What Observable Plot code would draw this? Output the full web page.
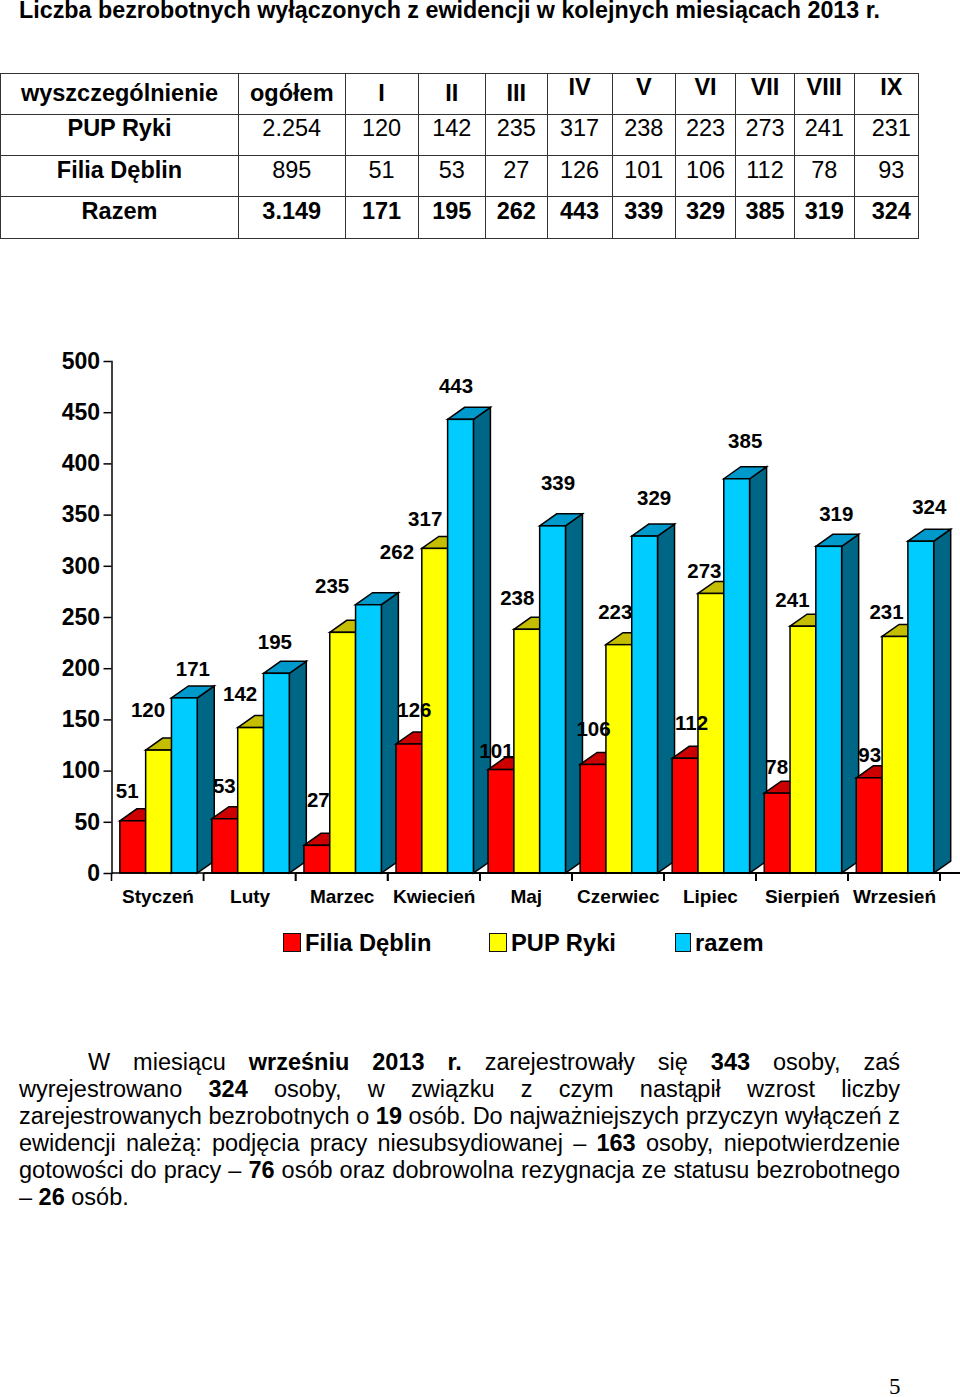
<!DOCTYPE html>
<html lang="pl">
<head>
<meta charset="utf-8">
<script src="https://cdn.jsdelivr.net/npm/d3@7"></script>
<script src="https://cdn.jsdelivr.net/npm/@observablehq/plot@0.6"></script>
<style>
html,body{margin:0;padding:0;background:#fff;color:#000}
body{width:960px;height:1397px;position:relative;overflow:hidden;font-family:"Liberation Sans",Arial,sans-serif}
#title{position:absolute;left:19px;top:0;font-weight:bold;font-size:23.3px;line-height:20px;white-space:nowrap;padding-bottom:4px}
#tbl{position:absolute;left:0;top:72.5px;border-collapse:collapse;table-layout:fixed;font-size:23.5px}
#tbl td{border:1.6px solid #333;text-align:center;vertical-align:top;padding:0;height:40.3px;line-height:27px;white-space:nowrap;overflow:visible}
#tbl td span{position:relative;display:inline-block}
#tbl td.b{font-weight:bold}
#chart{position:absolute;left:0;top:340px}
#chart svg{overflow:visible}
.lg{position:absolute;top:928px;font-weight:bold;font-size:23.7px;line-height:30px;white-space:nowrap}
.sw{position:absolute;top:933px;height:17px;border:1.6px solid #111;box-sizing:content-box}
#para{position:absolute;left:19px;top:1049px;width:881px;font-size:23.5px;line-height:27px}
#para div{text-align:justify;text-align-last:justify;white-space:normal}
#para div.first{padding-left:69px}
#para div.last{text-align-last:left}
#page{position:absolute;left:889px;top:1375px;font-family:"Liberation Serif",serif;font-size:23px;line-height:24px}
</style>
</head>
<body>
<div id="title">Liczba bezrobotnych wyłączonych z ewidencji w kolejnych miesiącach 2013 r.</div>
<table id="tbl"></table>
<div id="chart"></div>
<div id="legend"></div>
<div id="para">
<div class="first">W miesiącu <b>wrześniu 2013 r.</b> zarejestrowały się <b>343</b> osoby, zaś</div>
<div>wyrejestrowano <b>324</b> osoby, w związku z czym nastąpił wzrost liczby</div>
<div>zarejestrowanych bezrobotnych o <b>19</b> osób. Do najważniejszych przyczyn wyłączeń z</div>
<div>ewidencji należą: podjęcia pracy niesubsydiowanej – <b>163</b> osoby, niepotwierdzenie</div>
<div>gotowości do pracy – <b>76</b> osób oraz dobrowolna rezygnacja ze statusu bezrobotnego</div>
<div class="last">– <b>26</b> osób.</div>
</div>
<div id="page">5</div>
<script>
// ---- data ----
const months = ["Styczeń","Luty","Marzec","Kwiecień","Maj","Czerwiec","Lipiec","Sierpień","Wrzesień"];
const romans = ["I","II","III","IV","V","VI","VII","VIII","IX"];
const series = ["Filia Dęblin","PUP Ryki","razem"];
const filiaDeblin = [51,53,27,126,101,106,112,78,93];
const pupRyki = [120,142,235,317,238,223,273,241,231];
const razem = [171,195,262,443,339,329,385,319,324];
const totals = {pup:"2.254", filia:"895", razem:"3.149"};
const yTicks = [0,50,100,150,200,250,300,350,400,450,500];

// ---- styling ----
const frontColors = ["#ff0000","#ffff00","#00ccff"];
const topColors = ["#cc0000","#c4bd00","#0099cc"];
const sideColors = ["#990000","#999900","#006685"];
const depth = {x:17, y:12};
// hand-placed offset of each data label from the top-centre of its bar
const labelShift = [
  {dx:[-6,-1,1,5,-5,0,6,-1,0],     dy:[-30,-33,-45,-34,-19,-36,-35,-26,-23]},
  {dx:[-11,-11,-11,-10,-10,-4,-7,-11,-9], dy:[-40,-34,-46,-29,-31,-33,-23,-26,-25]},
  {dx:[8,-2,28,-5,5,9,8,7,8],   dy:[-29,-31,-53,-33,-43,-38,-38,-32,-34]}
];

// ---- table ----
const colWidths = [238,106.5,73,67.5,61.5,65,63.5,60,59,59.5,64.5];
const tbl = document.getElementById("tbl");
tbl.style.width = d3.sum(colWidths)+"px";
tbl.innerHTML = "<colgroup>"+colWidths.map(w=>`<col style="width:${w}px">`).join("")+"</colgroup>";
function addRow(cells, bold, pad){
  const tr = tbl.insertRow();
  cells.forEach((c,i)=>{
    const td = tr.insertCell();
    if (bold(i)) td.className="b";
    td.style.paddingTop = 0;
    const s = document.createElement("span");
    s.textContent = c;
    s.style.top = (typeof pad==="function"?pad(i):pad)+"px";
    if (i===10) s.style.left = "5px";
    td.appendChild(s);
  });
}
addRow(["wyszczególnienie","ogółem",...romans], ()=>true, i=> i>=5 ? 0.5 : 6.5);
addRow(["PUP Ryki",totals.pup,...pupRyki], i=>i===0, 0.5);
addRow(["Filia Dęblin",totals.filia,...filiaDeblin], i=>i===0, 0.5);
addRow(["Razem",totals.razem,...razem], ()=>true, 0.5);

// ---- chart ----
const rows = [];
[filiaDeblin,pupRyki,razem].forEach((vals,s)=>vals.forEach((v,m)=>rows.push({
  month:months[m], series:series[s], value:v, dx:labelShift[s].dx[m], dy:labelShift[s].dy[m]
})));

function with3D(index, scales, values, dims, context, next){
  const g = next(index, scales, values, dims, context);
  const ns = "http://www.w3.org/2000/svg";
  g.querySelectorAll("rect").forEach(r=>{
    const x=+r.getAttribute("x"), y=+r.getAttribute("y"), w=+r.getAttribute("width"), h=+r.getAttribute("height");
    const k=frontColors.indexOf(r.getAttribute("fill"));
    const face=(pts,fill)=>{
      const p=document.createElementNS(ns,"polygon");
      p.setAttribute("points",pts.map(a=>a.join(",")).join(" "));
      p.setAttribute("fill",fill);
      g.insertBefore(p,r);
    };
    face([[x+w,y],[x+w+depth.x,y-depth.y],[x+w+depth.x,y+h-depth.y],[x+w,y+h]],sideColors[k]);
    face([[x,y],[x+depth.x,y-depth.y],[x+w+depth.x,y-depth.y],[x+w,y]],topColors[k]);
  });
  return g;
}

function xAxisLine(index, {fx}, values, dims){
  const g=d3.create("svg:g").attr("stroke","#000").attr("stroke-width",1.5).attr("fill","none");
  const y0=dims.height-dims.marginBottom, bw=fx.bandwidth;
  const left=fx(months[0]), right=fx(months[months.length-1])+bw;
  g.append("path").attr("d",`M${left},${y0}H${right}l${depth.x+1},${-depth.y}`);
  months.forEach(m=>g.append("path").attr("d",`M${fx(m)},${y0}v8`));
  g.append("path").attr("d",`M${right},${y0}v8`);
  return g.node();
}

const plot = Plot.plot({
  width:960, height:590,
  marginLeft:111.5, marginRight:20, marginTop:21, marginBottom:57,
  style:{fontFamily:'"Liberation Sans",Arial,sans-serif',background:"transparent",overflow:"visible"},
  fx:{domain:months, padding:0, round:false, axis:null},
  x:{domain:series, paddingInner:0, paddingOuter:0.284, align:0.57, round:false, axis:null},
  y:{domain:[0,500], axis:null},
  color:{domain:series, range:frontColors},
  marks:[
    Plot.barY(rows,{fx:"month",x:"series",y:"value",fill:"series",stroke:"#000",strokeWidth:1.5,render:with3D}),
    xAxisLine,
    Plot.axisY({ticks:yTicks,label:null,tickSize:8,tickPadding:4,fontSize:23,fontWeight:"bold",strokeWidth:1.5,stroke:"#000",fill:"#000"}),
    Plot.frame({anchor:"left",facetAnchor:"left",stroke:"#000",strokeWidth:1.5}),
    Plot.axisFx({anchor:"bottom",label:null,tickSize:0,tickPadding:16,fontSize:19,fontWeight:"bold",fill:"#000"}),
    ...rows.map(d=>Plot.text([d],{fx:"month",x:"series",y:"value",text:"value",dx:d.dx,dy:d.dy,fontSize:20.5,fontWeight:"bold",fill:"#000",lineAnchor:"middle"}))
  ]
});
document.getElementById("chart").appendChild(plot);

// ---- legend ----
const legendPlaces = [{sw:283,w:16,tx:305},{sw:489,w:16,tx:511},{sw:675,w:14,tx:695}];
const lg = document.getElementById("legend");
series.forEach((s,i)=>{
  const p=legendPlaces[i];
  lg.insertAdjacentHTML("beforeend",`<div class="sw" style="left:${p.sw}px;width:${p.w}px;background:${frontColors[i]}"></div><div class="lg" style="left:${p.tx}px">${s}</div>`);
});
</script>
</body>
</html>
